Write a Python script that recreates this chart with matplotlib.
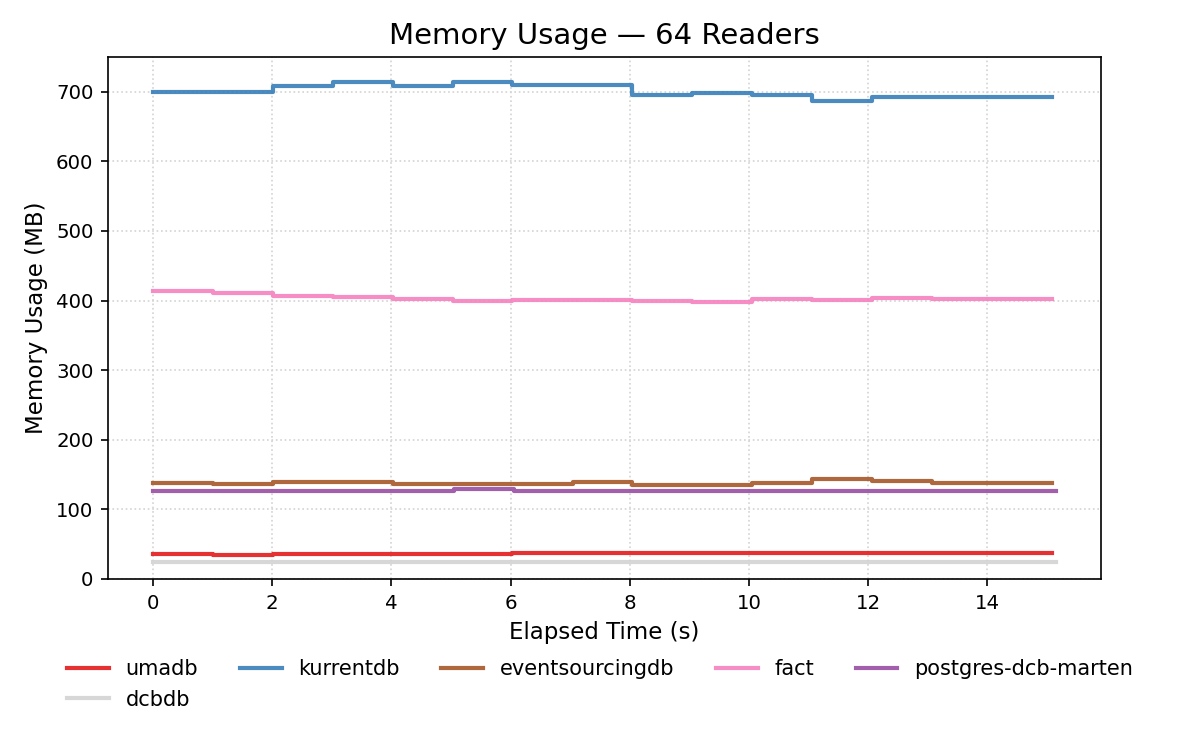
import matplotlib
matplotlib.use("Agg")
import matplotlib.pyplot as plt

# sample times (s) for each series
times = [0, 1.01, 2.01, 3.02, 4.02, 5.03, 6.03, 7.04, 8.04, 9.05, 10.05, 11.06, 12.06, 13.07, 14.07, 15.08]
times_long = [0, 1.01, 2.02, 3.03, 4.04, 5.05, 6.06, 7.07, 8.08, 9.09, 10.10, 11.11, 12.12, 13.13, 14.14, 15.15]

# memory usage in MB
umadb = [36.3, 35, 36, 36, 36, 36, 37.7, 37.7, 37.7, 37.7, 37.7, 37.7, 37.7, 37.7, 37.7, 37.7]
kurrentdb = [700, 699, 708, 714, 709, 714, 710, 710, 695, 698.6, 696, 687.5, 692, 692, 693, 693]
eventsourcingdb = [138, 136.5, 140, 140, 137, 137, 137, 139, 135, 135, 138, 144, 141, 138, 138, 138]
fact = [414, 411.5, 407, 405, 403, 400, 401.5, 401.5, 400, 398.5, 403, 401.5, 404, 403, 403, 403]
postgres_dcb_marten = [127, 127, 127, 127, 127, 128.7, 127, 127, 127, 127, 127, 127, 127, 127, 127, 127]
dcbdb = [25] * 16

series = [
    ("umadb", times, umadb, "#e41a1c"),
    ("kurrentdb", times, kurrentdb, "#377eb8"),
    ("eventsourcingdb", times, eventsourcingdb, "#a65628"),
    ("fact", times, fact, "#f781bf"),
    ("postgres-dcb-marten", times_long, postgres_dcb_marten, "#984ea3"),
    ("dcbdb", times_long, dcbdb, "lightgray"),
]

fig, ax = plt.subplots(figsize=(8, 5), dpi=150)

lines = []
for name, t, vals, color in series:
    ln, = ax.plot(t, vals, drawstyle="steps-post", color=color, alpha=0.9, linewidth=2.0, label=name)
    lines.append(ln)

ax.set_ylim(0, 750)
ax.set_xticks(range(0, 16, 2))
ax.set_xlabel("Elapsed Time (s)", fontsize=11)
ax.set_ylabel("Memory Usage (MB)", fontsize=11)
ax.set_title("Memory Usage — 64 Readers", fontsize=14)
ax.tick_params(labelsize=9.5)
ax.grid(True, linestyle=":", color="lightgray", linewidth=0.8)

# legend fills column by column, so reorder to read row by row
order = [0, 5, 1, 2, 3, 4]
fig.legend([lines[i] for i in order], [lines[i].get_label() for i in order],
           loc="upper center", bbox_to_anchor=(0.5, 0.146), ncol=5, frameon=False, fontsize=10)

plt.subplots_adjust(left=0.09, right=0.9175, top=0.924, bottom=0.228)
plt.savefig("out.png", dpi=150)
